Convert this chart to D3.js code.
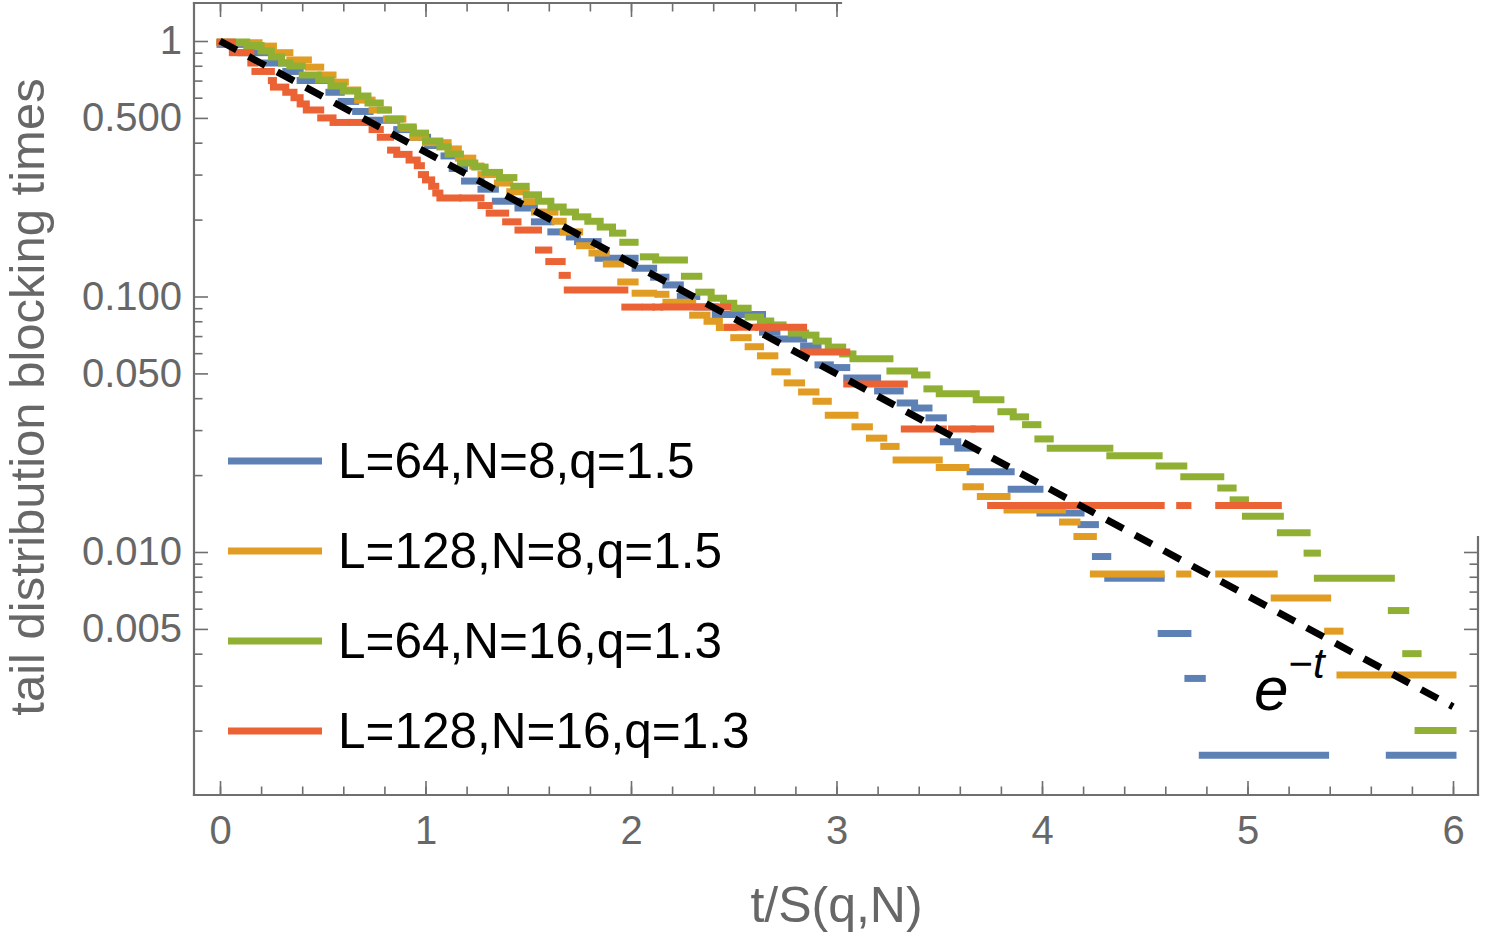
<!DOCTYPE html>
<html>
<head>
<meta charset="utf-8">
<script src="https://cdn.jsdelivr.net/npm/d3@7"></script>
<style>
  html, body { margin: 0; padding: 0; background: #fff; }
  svg { display: block; font-family: "Liberation Sans", Arial, sans-serif; }
</style>
</head>
<body>
<svg id="chart" width="1488" height="936"></svg>
<script>
// each level of the tail distribution: [t start, t end, value]
const blueSteps = [
  [0.00, 0.10, 0.97], [0.10, 0.22, 0.90], [0.22, 0.32, 0.82], [0.32, 0.39, 0.76],
  [0.39, 0.53, 0.70], [0.53, 0.59, 0.63], [0.59, 0.66, 0.58], [0.66, 0.73, 0.53],
  [0.73, 0.86, 0.49], [0.86, 0.94, 0.45], [0.94, 1.01, 0.42], [1.01, 1.09, 0.39],
  [1.09, 1.13, 0.355], [1.13, 1.19, 0.317], [1.19, 1.27, 0.283], [1.27, 1.34, 0.263],
  [1.34, 1.45, 0.236], [1.45, 1.53, 0.222], [1.53, 1.61, 0.196], [1.61, 1.70, 0.179],
  [1.70, 1.74, 0.171], [1.74, 1.84, 0.164], [1.84, 2.02, 0.141], [2.02, 2.11, 0.129],
  [2.11, 2.17, 0.119], [2.17, 2.24, 0.111], [2.24, 2.32, 0.100], [2.32, 2.41, 0.091],
  [2.41, 2.64, 0.085], [2.64, 2.71, 0.0725], [2.71, 2.84, 0.0682], [2.84, 2.91, 0.0640],
  [2.91, 2.97, 0.0540], [2.97, 3.05, 0.0527], [3.05, 3.20, 0.0480], [3.20, 3.31, 0.0427],
  [3.31, 3.38, 0.0383], [3.38, 3.45, 0.0366], [3.45, 3.52, 0.0335], [3.52, 3.59, 0.0270],
  [3.59, 3.65, 0.0255], [3.65, 3.85, 0.0206], [3.85, 3.99, 0.0176], [3.99, 4.19, 0.0142],
  [4.19, 4.26, 0.0128], [4.26, 4.32, 0.0096], [4.32, 4.58, 0.0079], [4.58, 4.71, 0.0048],
  [4.71, 4.78, 0.0032], [4.78, 5.38, 0.0016], [5.69, 6.00, 0.0016]
]

const orangeSteps = [
  [0.00, 0.19, 0.985], [0.19, 0.26, 0.955], [0.26, 0.34, 0.90], [0.34, 0.43, 0.843],
  [0.43, 0.49, 0.79], [0.49, 0.55, 0.736], [0.55, 0.61, 0.69], [0.61, 0.67, 0.643],
  [0.67, 0.74, 0.587], [0.74, 0.81, 0.537], [0.81, 0.89, 0.495], [0.89, 0.94, 0.456],
  [0.94, 1.00, 0.42], [1.00, 1.11, 0.40], [1.11, 1.16, 0.378], [1.16, 1.23, 0.348],
  [1.23, 1.27, 0.324], [1.27, 1.35, 0.30], [1.35, 1.41, 0.278], [1.41, 1.49, 0.257],
  [1.49, 1.53, 0.235], [1.53, 1.63, 0.214], [1.63, 1.67, 0.197], [1.67, 1.75, 0.179],
  [1.75, 1.81, 0.158], [1.81, 1.88, 0.148], [1.88, 1.95, 0.134], [1.95, 2.02, 0.114],
  [2.02, 2.11, 0.103], [2.13, 2.17, 0.102], [2.17, 2.30, 0.095], [2.30, 2.37, 0.0845],
  [2.37, 2.43, 0.080], [2.43, 2.50, 0.0756], [2.50, 2.57, 0.069], [2.57, 2.63, 0.0636],
  [2.63, 2.70, 0.0586], [2.70, 2.76, 0.0507], [2.76, 2.83, 0.0459], [2.83, 2.90, 0.0423],
  [2.90, 2.96, 0.0389], [2.96, 3.09, 0.0343], [3.09, 3.16, 0.0309], [3.16, 3.23, 0.0279],
  [3.23, 3.29, 0.0259], [3.29, 3.50, 0.0229], [3.50, 3.63, 0.0214], [3.63, 3.70, 0.0180],
  [3.70, 3.83, 0.0165], [3.83, 4.10, 0.0146], [4.10, 4.17, 0.0131], [4.17, 4.25, 0.0115],
  [4.25, 4.58, 0.0082], [4.67, 4.71, 0.0082], [4.86, 5.13, 0.0082], [5.13, 5.39, 0.0066],
  [5.39, 5.45, 0.0049], [5.45, 6.00, 0.0033]
]

const greenSteps = [
  [0.00, 0.13, 0.99], [0.13, 0.20, 0.96], [0.20, 0.25, 0.914], [0.25, 0.30, 0.866],
  [0.30, 0.34, 0.820], [0.34, 0.40, 0.798], [0.40, 0.48, 0.736], [0.48, 0.54, 0.704],
  [0.54, 0.60, 0.667], [0.60, 0.67, 0.637], [0.67, 0.72, 0.609], [0.72, 0.78, 0.572],
  [0.78, 0.82, 0.537], [0.82, 0.88, 0.495], [0.88, 0.94, 0.461], [0.94, 1.00, 0.436],
  [1.00, 1.07, 0.406], [1.07, 1.11, 0.385], [1.11, 1.17, 0.361], [1.17, 1.24, 0.333],
  [1.24, 1.29, 0.321], [1.29, 1.36, 0.306], [1.36, 1.43, 0.292], [1.43, 1.49, 0.270],
  [1.49, 1.55, 0.250], [1.55, 1.61, 0.236], [1.61, 1.67, 0.224], [1.67, 1.73, 0.214],
  [1.73, 1.79, 0.205], [1.79, 1.85, 0.197], [1.85, 1.91, 0.187], [1.91, 1.96, 0.177],
  [1.96, 2.02, 0.163], [2.06, 2.12, 0.143], [2.12, 2.26, 0.139], [2.26, 2.33, 0.120],
  [2.33, 2.39, 0.104], [2.39, 2.45, 0.0985], [2.45, 2.50, 0.0941], [2.50, 2.57, 0.0900],
  [2.57, 2.63, 0.0831], [2.63, 2.68, 0.0802], [2.68, 2.74, 0.0774], [2.78, 2.85, 0.0719],
  [2.85, 2.90, 0.0706], [2.90, 2.96, 0.0669], [2.96, 3.03, 0.0634], [3.03, 3.08, 0.0596],
  [3.08, 3.26, 0.0570], [3.26, 3.38, 0.0511], [3.38, 3.44, 0.0493], [3.44, 3.50, 0.0435],
  [3.50, 3.68, 0.0416], [3.68, 3.80, 0.0394], [3.80, 3.86, 0.0354], [3.86, 3.92, 0.0338],
  [3.92, 3.98, 0.0315], [3.98, 4.04, 0.0277], [4.04, 4.33, 0.0255], [4.33, 4.57, 0.0238],
  [4.57, 4.69, 0.0217], [4.69, 4.87, 0.0197], [4.87, 4.93, 0.0178], [4.93, 4.99, 0.0160],
  [4.99, 5.16, 0.0138], [5.16, 5.29, 0.0119], [5.29, 5.34, 0.0099], [5.34, 5.70, 0.0079],
  [5.70, 5.77, 0.0059], [5.77, 5.83, 0.0040], [5.83, 6.00, 0.0020]
]

const redSteps = [
  [0.00, 0.06, 0.99], [0.06, 0.15, 0.90], [0.15, 0.17, 0.82], [0.17, 0.25, 0.76],
  [0.25, 0.26, 0.70], [0.26, 0.32, 0.66], [0.32, 0.36, 0.63], [0.36, 0.39, 0.60],
  [0.39, 0.42, 0.567], [0.42, 0.49, 0.537], [0.49, 0.55, 0.50], [0.55, 0.62, 0.48],
  [0.64, 0.69, 0.48], [0.715, 0.74, 0.48], [0.74, 0.78, 0.45], [0.78, 0.83, 0.42],
  [0.83, 0.86, 0.374], [0.86, 0.92, 0.36], [0.92, 0.96, 0.342], [0.96, 0.98, 0.325],
  [0.98, 1.00, 0.30], [1.00, 1.03, 0.286], [1.03, 1.05, 0.27], [1.05, 1.07, 0.254],
  [1.07, 1.16, 0.243], [1.18, 1.27, 0.243], [1.27, 1.31, 0.227], [1.31, 1.39, 0.212],
  [1.39, 1.45, 0.196], [1.45, 1.55, 0.182], [1.55, 1.60, 0.152], [1.60, 1.665, 0.137],
  [1.665, 1.69, 0.121], [1.69, 1.97, 0.106], [1.97, 2.04, 0.0909], [2.07, 2.10, 0.0909],
  [2.12, 2.14, 0.0909], [2.16, 2.47, 0.0909], [2.47, 2.60, 0.0758], [2.62, 2.67, 0.0758],
  [2.68, 2.84, 0.0758], [2.84, 3.05, 0.0606], [3.05, 3.33, 0.0455], [3.33, 3.52, 0.0303],
  [3.56, 3.66, 0.0303], [3.67, 3.75, 0.0303], [3.75, 4.58, 0.0152], [4.67, 4.71, 0.0152],
  [4.86, 5.15, 0.0152]
]

const seriesNames = ["L=64,N=8,q=1.5", "L=128,N=8,q=1.5", "L=64,N=16,q=1.3", "L=128,N=16,q=1.3"]
const seriesColors = ["#5e81b5", "#e19c24", "#8fb032", "#eb6235"]
const seriesSteps = [blueSteps, orangeSteps, greenSteps, redSteps]

// e^-t reference, straight on a log axis: end points
const expLine = [[0, 1], [6, 0.00248]]

const xMajorTicks = [0, 1, 2, 3, 4, 5, 6]
const xMinorTicks = d3.range(0, 30.5).map(i => i / 5)
const yTickLabels = [[1, "1"], [0.5, "0.500"], [0.1, "0.100"], [0.05, "0.050"], [0.01, "0.010"], [0.005, "0.005"]]

const frameColor = "#6f6f6f"
const labelColor = "#676767"

const svg = d3.select("#chart")

const x = d3.scaleLinear().domain([0, 6]).range([220, 1453])
const y = d3.scaleLog().domain([1, 0.01]).range([41, 552])

const frame = { left: 194, right: 1478, top: 3, bottom: 795 }
const topFrameEnd = 841
const rightFrameStart = 537

// log ticks over the whole frame height
const yFull = d3.scaleLog().domain([y.invert(frame.top), y.invert(frame.bottom)]).range([frame.top, frame.bottom])
const yAllTicks = yFull.ticks()
const isMajorY = v => yTickLabels.some(d => Math.abs(d[0] - v) / v < 1e-6)
const yMinorTicks = yAllTicks.filter(v => !isMajorY(v))
const yMajorTicks = yTickLabels.map(d => d[0])

const axes = svg.append("g").attr("class", "axes")

function styleAxis(g) {
  g.select(".domain").remove()
  g.selectAll(".tick line").attr("stroke", frameColor).attr("stroke-width", 1.6)
  g.selectAll(".tick text").attr("fill", labelColor).style("font-size", "40px")
    .style("font-family", "Liberation Sans, Arial, sans-serif")
}

// bottom
axes.append("g").attr("transform", `translate(0,${frame.bottom})`)
  .call(d3.axisBottom(x).tickValues(xMinorTicks).tickSize(-8.5).tickFormat(""))
  .call(styleAxis)
axes.append("g").attr("transform", `translate(0,${frame.bottom})`)
  .call(d3.axisBottom(x).tickValues(xMajorTicks).tickSize(-14).tickPadding(21).tickFormat(d3.format("d")))
  .call(styleAxis)

// top (only the left part of the frame is shown)
axes.append("g").attr("transform", `translate(0,${frame.top})`)
  .call(d3.axisTop(x).tickValues(xMinorTicks.filter(t => x(t) <= topFrameEnd)).tickSize(-8.5).tickFormat(""))
  .call(styleAxis)
axes.append("g").attr("transform", `translate(0,${frame.top})`)
  .call(d3.axisTop(x).tickValues(xMajorTicks.filter(t => x(t) <= topFrameEnd)).tickSize(-14).tickFormat(""))
  .call(styleAxis)

// left
axes.append("g").attr("transform", `translate(${frame.left},0)`)
  .call(d3.axisLeft(y).tickValues(yMinorTicks).tickSize(-8.5).tickFormat(""))
  .call(styleAxis)
axes.append("g").attr("transform", `translate(${frame.left},0)`)
  .call(d3.axisLeft(y).tickValues(yMajorTicks).tickSize(-14).tickPadding(12)
    .tickFormat(v => yTickLabels.find(d => d[0] === v)[1]))
  .call(styleAxis)

// right (only the lower part of the frame is shown)
axes.append("g").attr("transform", `translate(${frame.right},0)`)
  .call(d3.axisRight(y).tickValues(yMinorTicks.filter(v => y(v) >= rightFrameStart)).tickSize(-8.5).tickFormat(""))
  .call(styleAxis)
axes.append("g").attr("transform", `translate(${frame.right},0)`)
  .call(d3.axisRight(y).tickValues(yMajorTicks.filter(v => y(v) >= rightFrameStart)).tickSize(-14).tickFormat(""))
  .call(styleAxis)

// frame lines
const frameLines = [
  [frame.left, frame.top, frame.left, frame.bottom],
  [frame.left, frame.bottom, frame.right, frame.bottom],
  [frame.left, frame.top, topFrameEnd, frame.top],
  [frame.right, rightFrameStart, frame.right, frame.bottom]
]
axes.selectAll("line.frame")
  .data(frameLines)
  .join("line")
  .attr("class", "frame")
  .attr("x1", d => d[0]).attr("y1", d => d[1])
  .attr("x2", d => d[2]).attr("y2", d => d[3])
  .attr("stroke", frameColor)
  .attr("stroke-width", 2.2)
  .attr("stroke-linecap", "square")

// series: horizontal step levels
const plot = svg.append("g").attr("class", "plot")
seriesSteps.forEach((steps, i) => {
  plot.append("g")
    .selectAll("line")
    .data(steps)
    .join("line")
    .attr("x1", d => x(d[0]))
    .attr("x2", d => x(d[1]))
    .attr("y1", d => y(d[2]))
    .attr("y2", d => y(d[2]))
    .attr("stroke", seriesColors[i])
    .attr("stroke-width", 7)
    .attr("stroke-linecap", "square")
})

// e^-t dashed line
plot.append("path")
  .datum(expLine)
  .attr("d", d3.line().x(d => x(d[0])).y(d => y(d[1])))
  .attr("fill", "none")
  .attr("stroke", "#000")
  .attr("stroke-width", 7)
  .attr("stroke-dasharray", "19,13.5")

const expLabel = svg.append("text")
  .attr("x", 1254)
  .attr("y", 710)
  .attr("fill", "#000")
  .style("font-size", "62px")
expLabel.append("tspan").style("font-style", "italic").text("e")
expLabel.append("tspan").attr("dy", -32).style("font-size", "42px").text("\u2212")
expLabel.append("tspan").style("font-size", "42px").style("font-style", "italic").text("t")

// legend
const legend = svg.append("g").attr("class", "legend")
const legendRows = legend.selectAll("g")
  .data(seriesNames)
  .join("g")
  .attr("transform", (d, i) => `translate(228, ${461 + i * 90})`)

legendRows.append("line")
  .attr("x1", 0).attr("x2", 94)
  .attr("stroke", (d, i) => seriesColors[i])
  .attr("stroke-width", 7)

legendRows.append("text")
  .attr("x", 110)
  .attr("y", 17)
  .attr("fill", "#000")
  .style("font-size", "49.5px")
  .text(d => d)

// axis titles
svg.append("text")
  .attr("x", x(3))
  .attr("y", 922)
  .attr("text-anchor", "middle")
  .attr("fill", labelColor)
  .style("font-size", "50px")
  .text("t/S(q,N)")

svg.append("text")
  .attr("transform", "translate(44, 397) rotate(-90)")
  .attr("text-anchor", "middle")
  .attr("fill", labelColor)
  .style("font-size", "49px")
  .text("tail distribution blocking times")
</script>
</body>
</html>
